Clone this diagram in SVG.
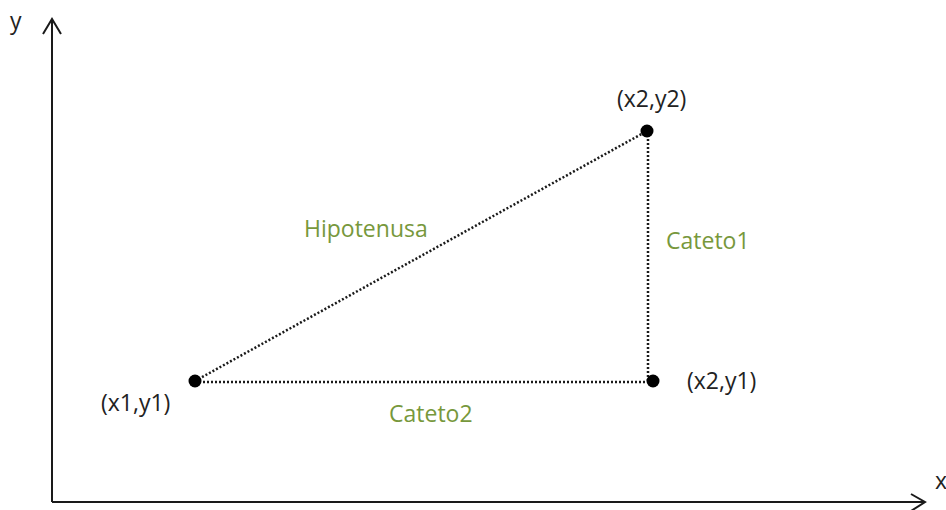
<svg xmlns="http://www.w3.org/2000/svg" width="946" height="510" viewBox="0 0 946 510">
<style>
.axis{stroke:#1a1a1a;stroke-width:2;fill:none}
.dot{stroke:#1a1a1a;stroke-width:2.5;stroke-dasharray:2 2;fill:none}
.pt{fill:#000}
.lbl{font-family:"Open Sans","Liberation Sans",sans-serif;font-size:23px;fill:#222}
.g{font-family:"Open Sans","Liberation Sans",sans-serif;font-size:23px;fill:#77983c}
</style>
<rect width="946" height="510" fill="#fff"/>
<g id="axes">
<path class="axis" d="M52,502 V19 M43,34 L52,19 L61,34"/>
<path class="axis" d="M52,502 H925 M911,494 L925,502 L911,511"/>
<text class="lbl" x="10" y="29">y</text>
<text class="lbl" x="935" y="489">x</text>
</g>
<g id="connectors">
<line class="dot" x1="195" y1="381" x2="647" y2="131"/>
<line class="dot" x1="648" y1="131" x2="648" y2="381"/>
<line class="dot" x1="195" y1="382" x2="653" y2="382"/>
</g>
<g id="p1"><circle class="pt" cx="195" cy="381" r="6.5"/><text class="lbl" x="101" y="411">(x1,y1)</text></g>
<g id="p2"><circle class="pt" cx="647" cy="131" r="6.5"/><text class="lbl" x="617" y="107">(x2,y2)</text></g>
<g id="p3"><circle class="pt" cx="653" cy="381" r="6.5"/><text class="lbl" x="687" y="389">(x2,y1)</text></g>
<g id="hip"><text class="g" x="304" y="237">Hipotenusa</text></g>
<g id="c1"><text class="g" x="666" y="249">Cateto1</text></g>
<g id="c2"><text class="g" x="389" y="422">Cateto2</text></g>
</svg>
